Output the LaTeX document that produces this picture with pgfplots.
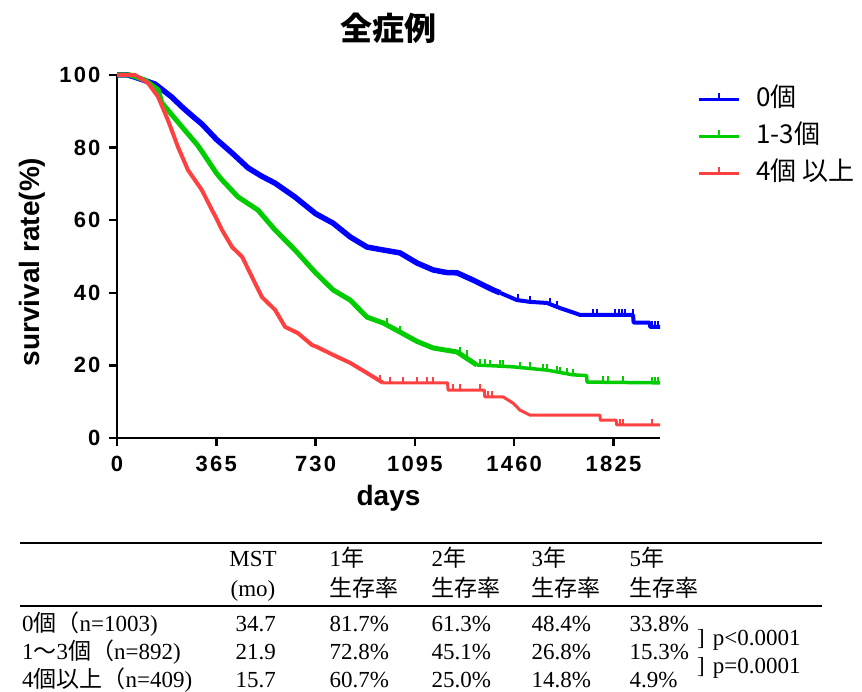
\documentclass[border=0pt]{standalone}
\usepackage{pgfplots}
\pgfplotsset{compat=1.18}
\usepackage{fontspec}
\setmainfont{Liberation Sans}
\newfontfamily\jp{Noto Sans CJK JP}
\newfontfamily\sr{Liberation Serif}
\definecolor{kmblue}{RGB}{0,0,255}
\definecolor{kmgreen}{RGB}{0,204,0}
\definecolor{kmred}{RGB}{255,64,64}
\pgfdeclareplotmark{cens}{\pgfpathmoveto{\pgfpointorigin}\pgfpathlineto{\pgfpoint{0pt}{\pgfplotmarksize}}\pgfusepathqstroke}
\newcommand\tf{\fontsize{23}{26}\selectfont}
\begin{document}
\begin{tikzpicture}
\path[use as bounding box] (0pt,0pt) rectangle (862pt,-692pt);
\node[font=\jp\bfseries\fontsize{32}{36}\selectfont] at (388pt,-28pt) {全症例};
\begin{axis}[
  at={(117pt,-438pt)}, anchor=south west, scale only axis,
  width=543pt, height=363pt,
  xmin=0, xmax=1996, ymin=0, ymax=100,
  axis lines=left, axis line style={-, line width=2.5pt, black},
  clip=false,
  xtick={0,365,730,1095,1460,1825},
  xticklabels={0,365,730,1095,1460,1825},
  ytick={0,20,40,60,80,100},
  yticklabels={0,20,40,60,80,100},
  tick align=outside, major tick length=8pt,
  tick style={line width=2.5pt, black},
  ticklabel style={font=\bfseries\fontsize{22}{26}\selectfont\addfontfeatures{LetterSpace=10}},
  xticklabel style={yshift=-7pt},
  yticklabel style={xshift=-5pt},
  xlabel={days}, ylabel={survival rate(\%)},
  every axis x label/.style={at={(axis description cs:0.5,-0.165)}, anchor=center, font=\bfseries\fontsize{28}{32}\selectfont},
  every axis y label/.style={at={(axis description cs:-0.1565,0.485)}, anchor=center, rotate=90, font=\bfseries\fontsize{28}{32}\selectfont},
  legend style={draw=none, fill=none, at={(1.068,0.972)}, anchor=north west, inner sep=0pt,
    font=\jp\fontsize{26}{28}\selectfont, row sep=9pt,
    nodes={text height=19pt, text depth=5pt, inner sep=2pt},
    /tikz/every odd column/.append style={column sep=14pt}},
  legend cell align=left,
  legend image code/.code={\draw[#1, line width=3pt] (0pt,0pt) -- (40pt,0pt); \draw[#1, line width=2pt] (20pt,0pt) -- (20pt,6pt);},
]
\addplot[kmblue, line width=5.5pt, line join=round] coordinates {
(0,100) (40,100) (70,99.3) (140,97.5) (200,94) (239,91.2) (280,88.5) (312,86.5) (365,82.3)
(423,78.5) (482,74.4) (530,72.2) (581,70.2) (654,66.4) (730,61.8) (794,59.2) (857,55.4)
(919,52.6) (978,51.8) (1040,51.0) (1103,48.2) (1162,46.3) (1210,45.6) (1250,45.5)
(1309,43.5) (1382,40.8) (1408,40.0)
};
\addlegendentry{0個}
\addplot[kmgreen, line width=5pt, line join=round] coordinates {
(0,100) (48,100) (103,98.6) (151,95.9) (165,92.3) (239,85.7) (298,80.5) (334,76.5) (365,73.0)
(386,71.1) (445,66.4) (518,62.8) (581,57.3) (654,51.8) (730,45.5) (794,40.8) (857,38.0)
(919,33.3) (978,31.7) (1040,29.2) (1103,26.6) (1162,24.8) (1250,23.7) (1323,20.1)
};
\addlegendentry{1-3個}
\addplot[kmred, line width=4pt, line join=round] coordinates {
(0,100) (66,100) (114,97.8) (151,94) (187,87.6) (224,80.2) (261,73.8) (312,68.3) (349,62.8)
(364,60.7) (386,57.3) (423,52.6) (460,49.9) (496,44.4) (533,38.8) (581,35.3) (618,30.6)
(665,28.9) (717,25.6) (735,25.1) (794,22.9) (857,20.7) (919,17.9) (978,15.2)
};
\addlegendentry{4個 以上}
% later, thinner parts
\addplot[forget plot, kmblue, line width=4pt, line join=round] coordinates {
(1408,40.0) (1470,38.0) (1518,37.5) (1581,37.2) (1628,35.8)
(1680,34.5) (1702,33.9) (1897,33.9) (1899,31.8) (1958,31.8) (1960,30.6) (1996,30.6)
};
\addplot[forget plot, kmgreen, line width=3.5pt, line join=round] coordinates {
(1323,20.1) (1408,19.8) (1456,19.6) (1581,18.7) (1676,17.4) (1726,17.2) (1728,15.4) (1996,15.2)
};
\addplot[forget plot, kmred, line width=3pt, line join=round] coordinates {
(978,15.2) (1215,15.2)
(1217,13.2) (1350,13.2) (1352,11.3) (1420,11.3) (1456,9.6) (1481,7.7) (1518,6.3)
(1775,6.3) (1777,4.9) (1835,4.9) (1837,3.6) (1996,3.6)
};
% censor marks
\addplot[forget plot, only marks, kmblue, mark=cens, mark size=6pt, line width=2pt] coordinates {
(1474,38.0) (1518,37.5) (1592,36.8) (1617,36.2) (1750,33.9) (1764,33.9) (1830,33.9) (1845,33.9)
(1856,33.9) (1867,33.9) (1897,33.9) (1966,30.6) (1978,30.6) (1989,30.6)
};
\addplot[forget plot, only marks, kmgreen, mark=cens, mark size=6pt, line width=2pt] coordinates {
(992,31.4) (1040,29.2) (1261,23.3) (1287,22.6) (1334,20.1) (1352,20.0) (1371,19.9) (1408,19.8)
(1419,19.7) (1481,19.4) (1518,19.2) (1566,18.8) (1581,18.7) (1617,18.2) (1628,18.0) (1654,17.7)
(1676,17.4) (1786,15.3) (1805,15.3) (1860,15.3) (1966,15.2) (1978,15.2) (1989,15.2)
};
\addplot[forget plot, only marks, kmred, mark=cens, mark size=6pt, line width=2pt] coordinates {
(967,15.6) (1004,15.2) (1051,15.2) (1103,15.2) (1140,15.2) (1162,15.2) (1235,13.2) (1261,13.2)
(1334,13.2) (1364,11.3) (1378,11.3) (1849,3.6) (1860,3.6) (1966,3.6)
};
\end{axis}
% table
\draw[line width=2pt] (20pt,-543pt) -- (822pt,-543pt);
\draw[line width=2.5pt] (20pt,-606pt) -- (822pt,-606pt);
\node[anchor=base, font=\sr\tf] at (253pt,-566pt) {MST};
\node[anchor=base, font=\sr\tf] at (253pt,-596pt) {(mo)};
\node[anchor=base west, font=\tf] at (326pt,-566pt) {\sr 1\jp 年};
\node[anchor=base west, font=\tf] at (428pt,-566pt) {\sr 2\jp 年};
\node[anchor=base west, font=\tf] at (528pt,-566pt) {\sr 3\jp 年};
\node[anchor=base west, font=\tf] at (626pt,-566pt) {\sr 5\jp 年};
\node[anchor=base west, font=\jp\tf] at (326pt,-596pt) {生存率};
\node[anchor=base west, font=\jp\tf] at (428pt,-596pt) {生存率};
\node[anchor=base west, font=\jp\tf] at (528pt,-596pt) {生存率};
\node[anchor=base west, font=\jp\tf] at (626pt,-596pt) {生存率};
% rows
\node[anchor=base west, font=\tf, inner sep=0pt] at (22pt,-631pt) {\sr 0\jp 個（\sr n=1003)};
\node[anchor=base west, font=\tf, inner sep=0pt] at (22pt,-659pt) {\sr 1\jp 〜\sr 3\jp 個（\sr n=892)};
\node[anchor=base west, font=\tf, inner sep=0pt] at (22pt,-687pt) {\sr 4\jp 個以上（\sr n=409)};
\node[anchor=base east, font=\sr\tf, inner sep=0pt] at (276pt,-631pt) {34.7};
\node[anchor=base east, font=\sr\tf, inner sep=0pt] at (276pt,-659pt) {21.9};
\node[anchor=base east, font=\sr\tf, inner sep=0pt] at (276pt,-687pt) {15.7};
\node[anchor=base west, font=\sr\tf] at (326pt,-631pt) {81.7\%};
\node[anchor=base west, font=\sr\tf] at (428pt,-631pt) {61.3\%};
\node[anchor=base west, font=\sr\tf] at (528pt,-631pt) {48.4\%};
\node[anchor=base west, font=\sr\tf] at (626pt,-631pt) {33.8\%};
\node[anchor=base west, font=\sr\tf] at (326pt,-659pt) {72.8\%};
\node[anchor=base west, font=\sr\tf] at (428pt,-659pt) {45.1\%};
\node[anchor=base west, font=\sr\tf] at (528pt,-659pt) {26.8\%};
\node[anchor=base west, font=\sr\tf] at (626pt,-659pt) {15.3\%};
\node[anchor=base west, font=\sr\tf] at (326pt,-687pt) {60.7\%};
\node[anchor=base west, font=\sr\tf] at (428pt,-687pt) {25.0\%};
\node[anchor=base west, font=\sr\tf] at (528pt,-687pt) {14.8\%};
\node[anchor=base west, font=\sr\tf] at (626pt,-687pt) {4.9\%};
\node[anchor=base west, font=\sr\tf, inner sep=0pt] at (697pt,-645pt) {]\hspace{8pt}p<0.0001};
\node[anchor=base west, font=\sr\tf, inner sep=0pt] at (697pt,-673pt) {]\hspace{8pt}p=0.0001};
\end{tikzpicture}
\end{document}
